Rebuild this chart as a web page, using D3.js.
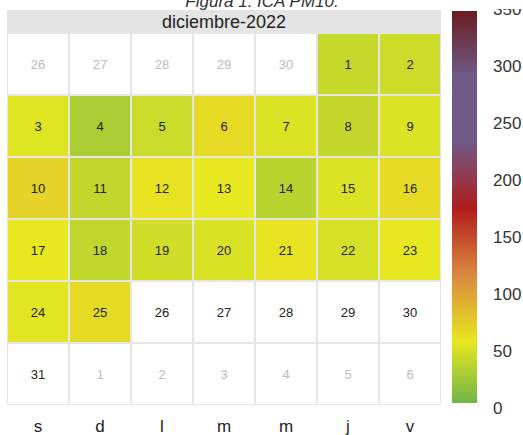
<!DOCTYPE html>
<html><head><meta charset="utf-8">
<script src="https://cdn.jsdelivr.net/npm/d3@7"></script>
<style>body{margin:0;background:#fff;}svg{display:block;font-family:"Liberation Sans",Arial,sans-serif;}</style>
</head><body>
<svg id="c" width="523" height="435"></svg>
<script>
const title = "Figura 1. ICA PM10.";
const monthLabel = "diciembre-2022";
const weekdays = ["s","d","l","m","m","j","v"];
// Days shown in grid (row-major), with flag for current month
const gridDays = [26,27,28,29,30,1,2, 3,4,5,6,7,8,9, 10,11,12,13,14,15,16, 17,18,19,20,21,22,23, 24,25,26,27,28,29,30, 31,1,2,3,4,5,6];
const inMonth  = [0,0,0,0,0,1,1, 1,1,1,1,1,1,1, 1,1,1,1,1,1,1, 1,1,1,1,1,1,1, 1,1,1,1,1,1,1, 1,0,0,0,0,0,0];
// ICA PM10 values for Dec 1..25 (null = no data)
const icaValues = [43,46,54,30,45,67,53,42,53,71,40,62,58,37,53,67,58,40,48,52,62,50,58,55,66,null,null,null,null,null,null];
const legendTicks = [0,50,100,150,200,250,300,350];
const colorStops = [0,58.3,116.7,175,233.3,291.7,350];
const colorRange = ["#68b04a","#e8e820","#da8840","#b21c1c","#6f5a87","#6f5a87","#6b1a1e"];

const svg = d3.select("#c");
const color = d3.scaleLinear().domain(colorStops).range(colorRange).clamp(true);

const x = d3.scaleBand().domain(d3.range(7)).range([7,441]).padding(0);
const y = d3.scaleBand().domain(d3.range(6)).range([33,405]).padding(0);

// title
svg.append("text").attr("x",262).attr("y",7).attr("text-anchor","middle")
  .attr("font-size",17).attr("font-style","italic").attr("fill","#333").text(title);

// header
svg.append("rect").attr("x",7).attr("y",10).attr("width",434).attr("height",23).attr("fill","#e4e4e4");
svg.append("text").attr("x",224).attr("y",28).attr("text-anchor","middle")
  .attr("font-size",18).attr("fill","#222").text(monthLabel);

// grid background
svg.append("rect").attr("x",7).attr("y",33).attr("width",434).attr("height",372).attr("fill","#e6e6e6");

const cells = gridDays.map((d,i)=>({day:d,col:i%7,row:Math.floor(i/7),inMonth:inMonth[i],
  value: inMonth[i] ? icaValues[d-1] : null}));

const g = svg.append("g");
g.selectAll("rect.cell").data(cells).join("rect").attr("class","cell")
  .attr("x",d=>x(d.col)+1).attr("y",d=>y(d.row)+1)
  .attr("width",x.bandwidth()-2).attr("height",y.bandwidth()-2)
  .attr("fill",d=>d.value==null?"#fff":color(d.value));
g.selectAll("text.day").data(cells).join("text").attr("class","day")
  .attr("x",d=>x(d.col)+x.bandwidth()/2).attr("y",d=>y(d.row)+y.bandwidth()/2+5)
  .attr("text-anchor","middle").attr("font-size",13)
  .attr("fill",d=>d.inMonth?"#222":"#bbb").text(d=>d.day);

// weekday labels
svg.selectAll("text.wd").data(weekdays).join("text").attr("class","wd")
  .attr("x",(d,i)=>x(i)+x.bandwidth()/2).attr("y",432).attr("text-anchor","middle")
  .attr("font-size",17).attr("fill","#222").text(d=>d);

// colorbar
const ly = d3.scaleLinear().domain([0,350]).range([408,9]);
const defs = svg.append("defs");
const grad = defs.append("linearGradient").attr("id","cb").attr("gradientUnits","userSpaceOnUse")
  .attr("x1",0).attr("x2",0).attr("y1",ly(0)).attr("y2",ly(350));
colorStops.forEach((s,i)=>grad.append("stop").attr("offset",s/350).attr("stop-color",colorRange[i]));
defs.append("clipPath").attr("id","lc").append("rect").attr("x",440).attr("y",9).attr("width",83).attr("height",426);
svg.append("rect").attr("x",452).attr("y",11).attr("width",25).attr("height",392).attr("fill","url(#cb)");
svg.append("g").attr("clip-path","url(#lc)").selectAll("text.lt").data(legendTicks).join("text").attr("class","lt")
  .attr("x",493).attr("y",d=>ly(d)+6).attr("font-size",17).attr("fill","#333").text(d=>d);
</script>
</body></html>
